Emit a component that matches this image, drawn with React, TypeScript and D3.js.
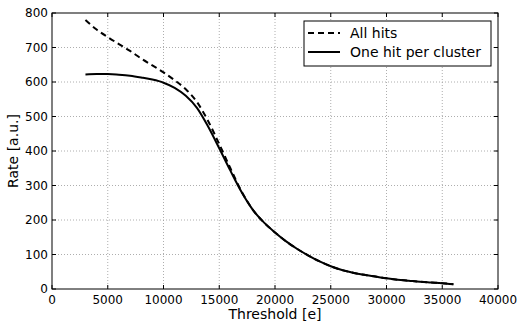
import * as d3 from "d3";

const WIDTH = 524;
const HEIGHT = 331;
const MARGIN = { top: 13, right: 26, bottom: 42, left: 52 };

// threshold in electrons
const thresholds = [
  3000, 4000, 5000, 6000, 7000, 8000, 9000, 10000, 11000, 12000, 13000, 14000,
  15000, 16000, 17000, 18000, 19000, 20000, 21000, 22000, 23000, 24000, 25000,
  26000, 27000, 28000, 29000, 30000, 31000, 32000, 33000, 34000, 35000, 36000,
];

const allHits = [
  780, 752, 730, 710, 690, 668, 648, 628, 605, 579, 542, 487, 420, 350, 283,
  230, 193, 164, 138, 116, 97, 80, 66, 55, 47, 41, 36, 31, 27, 24, 21, 19, 17,
  14,
];

const onePerCluster = [
  622, 623, 623, 621, 618, 613, 607, 598, 583, 560, 525, 471, 408, 343, 281,
  230, 193, 164, 138, 116, 97, 80, 66, 55, 47, 41, 36, 31, 27, 24, 21, 19, 17,
  14,
];

const xTicks = [0, 5000, 10000, 15000, 20000, 25000, 30000, 35000, 40000];
const yTicks = [0, 100, 200, 300, 400, 500, 600, 700, 800];

const FONT = "DejaVu Sans, sans-serif";

export default function App() {
  const innerW = WIDTH - MARGIN.left - MARGIN.right;
  const innerH = HEIGHT - MARGIN.top - MARGIN.bottom;
  const x = d3.scaleLinear().domain([0, 40000]).range([0, innerW]);
  const y = d3.scaleLinear().domain([0, 800]).range([innerH, 0]);

  const line = d3
    .line<number>()
    .x((_, i) => x(thresholds[i]))
    .y((d) => y(d))
    .curve(d3.curveMonotoneX);

  const legendX = 252;
  const legendY = 8;

  return (
    <svg
      width={WIDTH}
      height={HEIGHT}
      style={{ position: "absolute", left: 0, top: 0, background: "#fff" }}
      fontFamily={FONT}
    >
      <g transform={`translate(${MARGIN.left},${MARGIN.top})`}>
        {/* grid */}
        {xTicks.slice(1, -1).map((t) => (
          <line
            key={"gx" + t}
            x1={x(t)}
            x2={x(t)}
            y1={0}
            y2={innerH}
            stroke="#999"
            strokeWidth={0.8}
            strokeDasharray="1,2"
          />
        ))}
        {yTicks.slice(1, -1).map((t) => (
          <line
            key={"gy" + t}
            x1={0}
            x2={innerW}
            y1={y(t)}
            y2={y(t)}
            stroke="#999"
            strokeWidth={0.8}
            strokeDasharray="1,2"
          />
        ))}

        {/* curves */}
        <path
          d={line(allHits) || ""}
          fill="none"
          stroke="#000"
          strokeWidth={2}
          strokeDasharray="6,4"
        />
        <path
          d={line(onePerCluster) || ""}
          fill="none"
          stroke="#000"
          strokeWidth={2}
        />

        {/* frame */}
        <rect
          x={0}
          y={0}
          width={innerW}
          height={innerH}
          fill="none"
          stroke="#000"
          strokeWidth={1}
        />

        {/* ticks (inward, all sides) */}
        {xTicks.map((t) => (
          <g key={"tx" + t}>
            <line x1={x(t)} x2={x(t)} y1={innerH} y2={innerH - 4} stroke="#000" />
            <line x1={x(t)} x2={x(t)} y1={0} y2={4} stroke="#000" />
            <text
              x={x(t)}
              y={innerH + 15}
              textAnchor="middle"
              fontSize={12}
              fill="#000"
            >
              {t}
            </text>
          </g>
        ))}
        {yTicks.map((t) => (
          <g key={"ty" + t}>
            <line x1={0} x2={4} y1={y(t)} y2={y(t)} stroke="#000" />
            <line x1={innerW} x2={innerW - 4} y1={y(t)} y2={y(t)} stroke="#000" />
            <text
              x={-4}
              y={y(t)}
              dy="0.36em"
              textAnchor="end"
              fontSize={12}
              fill="#000"
            >
              {t}
            </text>
          </g>
        ))}

        {/* axis labels */}
        <text
          x={innerW / 2}
          y={innerH + 30}
          textAnchor="middle"
          fontSize={14}
          fill="#000"
        >
          Threshold [e]
        </text>
        <text
          transform={`translate(${-34},${innerH / 2}) rotate(-90)`}
          textAnchor="middle"
          fontSize={14}
          fill="#000"
        >
          Rate [a.u.]
        </text>

        {/* legend */}
        <g transform={`translate(${legendX},${legendY})`}>
          <rect
            x={0}
            y={0}
            width={187}
            height={45}
            fill="#fff"
            stroke="#000"
            strokeWidth={1}
          />
          <line
            x1={4}
            x2={36}
            y1={12}
            y2={12}
            stroke="#000"
            strokeWidth={2}
            strokeDasharray="6,4"
          />
          <text x={46} y={12} dy="0.36em" fontSize={14} fill="#000">
            All hits
          </text>
          <line x1={4} x2={36} y1={31} y2={31} stroke="#000" strokeWidth={2} />
          <text x={46} y={31} dy="0.36em" fontSize={14} fill="#000">
            One hit per cluster
          </text>
        </g>
      </g>
    </svg>
  );
}
